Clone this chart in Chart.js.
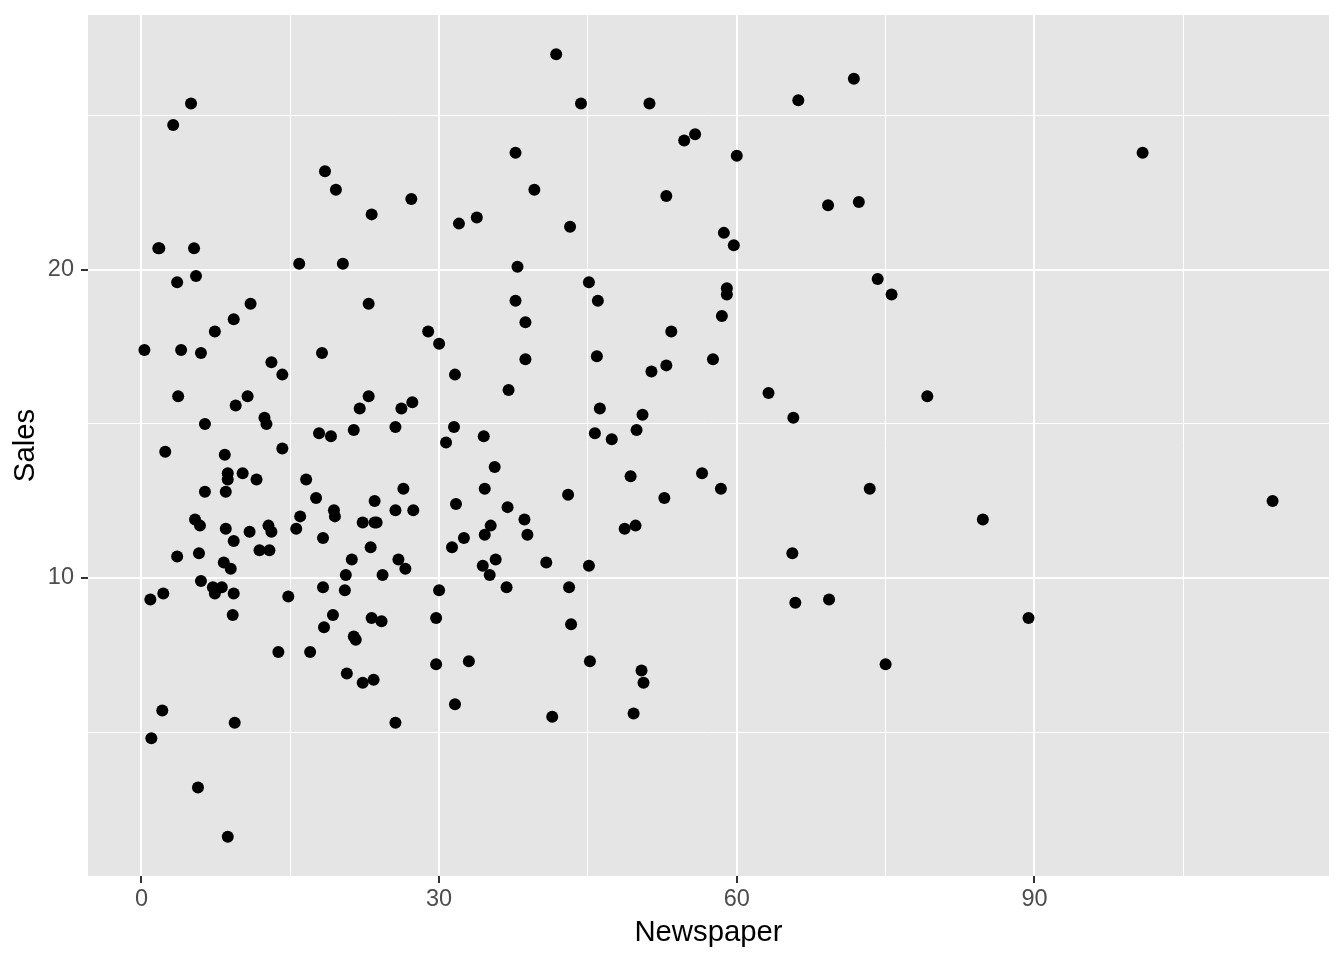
<!DOCTYPE html>
<html>
<head>
<meta charset="utf-8">
<script src="https://cdn.jsdelivr.net/npm/chart.js@4/dist/chart.umd.min.js"></script>
<style>
  html, body { margin: 0; padding: 0; background: #ffffff; }
  canvas { display: block; }
</style>
</head>
<body>
<canvas id="chart_newspaperSales" width="1344" height="960"></canvas>
<script>
// Advertising data: Newspaper budget vs Sales
var newspaper = [
  69.2, 45.1, 69.3, 58.5, 58.4, 75, 23.5, 11.6, 1, 21.2,
  24.2, 4, 65.9, 7.2, 46, 52.9, 114, 55.8, 18.3, 19.1,
  53.4, 23.5, 49.6, 26.2, 18.3, 19.5, 12.6, 22.9, 22.9, 40.8,
  43.2, 38.6, 30, 0.3, 7.4, 8.5, 5, 45.7, 35.1, 32,
  31.6, 38.7, 1.8, 26.4, 43.3, 31.5, 35.7, 18.5, 49.9, 36.8,
  34.6, 3.6, 39.6, 58.7, 15.9, 60, 41.4, 16.6, 37.7, 9.3,
  21.4, 54.7, 27.3, 8.4, 28.9, 0.9, 2.2, 10.2, 11, 27.2,
  38.7, 31.7, 19.3, 31.3, 13.1, 89.4, 20.7, 14.2, 9.4, 23.1,
  22.3, 36.9, 32.5, 35.6, 33.8, 65.7, 16, 63.2, 73.4, 51.4,
  9.3, 33, 59, 72.3, 10.9, 52.9, 5.9, 22, 51.2, 45.9,
  49.8, 100.9, 21.4, 17.9, 5.3, 59, 29.7, 23.2, 25.6, 5.5,
  56.5, 23.2, 2.4, 10.7, 34.5, 52.7, 25.6, 14.8, 79.2, 22.3,
  46.2, 50.4, 15.6, 12.4, 74.2, 25.9, 50.6, 9.2, 3.2, 43.1,
  8.7, 43, 2.1, 45.1, 65.6, 8.5, 9.3, 59.7, 20.5, 1.7,
  12.9, 75.6, 37.9, 34.4, 38.9, 9, 8.7, 44.3, 11.9, 20.6,
  37, 48.7, 14.2, 37.7, 9.5, 5.7, 50.5, 24.3, 45.2, 34.6,
  30.7, 49.3, 25.6, 7.4, 5.4, 84.8, 21.6, 19.4, 57.6, 6.4,
  18.4, 47.4, 17, 12.8, 13.1, 41.8, 20.3, 35.2, 23.7, 17.6,
  8.3, 27.4, 29.7, 71.8, 30, 19.6, 26.6, 18.2, 3.7, 23.4,
  5.8, 6, 31.6, 3.6, 6, 13.8, 8.1, 6.4, 66.2, 8.7
];
var sales = [
  22.1, 10.4, 9.3, 18.5, 12.9, 7.2, 11.8, 13.2, 4.8, 10.6,
  8.6, 17.4, 9.2, 9.7, 19, 22.4, 12.5, 24.4, 11.3, 14.6,
  18, 12.5, 5.6, 15.5, 9.7, 12, 15, 15.9, 18.9, 10.5,
  21.4, 11.9, 9.6, 17.4, 9.5, 12.8, 25.4, 14.7, 10.1, 21.5,
  16.6, 17.1, 20.7, 12.9, 8.5, 14.9, 10.6, 23.2, 14.8, 9.7,
  11.4, 10.7, 22.6, 21.2, 20.2, 23.7, 5.5, 13.2, 23.8, 18.4,
  8.1, 24.2, 15.7, 14, 18, 9.3, 9.5, 13.4, 18.9, 22.3,
  18.3, 12.4, 8.8, 11, 17, 8.7, 6.9, 14.2, 5.3, 11,
  11.8, 12.3, 11.3, 13.6, 21.7, 15.2, 12, 16, 12.9, 16.7,
  11.2, 7.3, 19.4, 22.2, 11.5, 16.9, 11.7, 15.5, 25.4, 17.2,
  11.7, 23.8, 14.8, 14.7, 20.7, 19.2, 7.2, 8.7, 5.3, 19.8,
  13.4, 21.8, 14.1, 15.9, 14.6, 12.6, 12.2, 9.4, 15.9, 6.6,
  15.5, 7, 11.6, 15.2, 19.7, 10.6, 6.6, 8.8, 24.7, 9.7,
  1.6, 12.7, 5.7, 19.6, 10.8, 11.6, 9.5, 20.8, 9.6, 20.7,
  10.9, 19.2, 20.1, 10.4, 11.4, 10.3, 13.2, 25.4, 10.9, 10.1,
  16.1, 11.6, 16.6, 19, 15.6, 3.2, 15.3, 10.1, 7.3, 12.9,
  14.4, 13.3, 14.9, 18, 11.9, 11.9, 8, 12.2, 17.1, 15,
  8.4, 14.5, 7.6, 11.7, 11.5, 27, 20.2, 11.7, 11.8, 12.6,
  10.5, 12.2, 8.7, 26.2, 17.6, 22.6, 10.3, 17.3, 15.9, 6.7,
  10.8, 9.9, 5.9, 19.6, 17.3, 7.6, 9.7, 12.8, 25.5, 13.4
];

// axis breaks
var xMajor = [0, 30, 60, 90];
var xMinor = [15, 45, 75, 105];
var yMajor = [10, 20];
var yMinor = [5, 15, 25];

// ggplot-style 5% expansion of the data range
function expandRange(vals) {
  var lo = Math.min.apply(null, vals), hi = Math.max.apply(null, vals);
  var pad = (hi - lo) * 0.05;
  return [lo - pad, hi + pad];
}
var xRange = expandRange(newspaper);
var yRange = expandRange(sales);

var points = newspaper.map(function (x, i) { return { x: x, y: sales[i] }; });

function gridScale(major, minor, range) {
  var all = major.concat(minor).sort(function (a, b) { return a - b; });
  return {
    type: 'linear',
    min: range[0],
    max: range[1],
    afterBuildTicks: function (scale) {
      scale.ticks = all.map(function (v) { return { value: v }; });
    },
    border: { display: false },
    grid: {
      drawOnChartArea: true,
      drawTicks: true,
      tickLength: 7,
      color: '#ffffff',
      lineWidth: function (ctx) {
        return ctx.tick && major.indexOf(ctx.tick.value) >= 0 ? 2 : 1;
      },
      tickColor: function (ctx) {
        return ctx.tick && major.indexOf(ctx.tick.value) >= 0 ? '#333333' : 'rgba(0,0,0,0)';
      },
      tickWidth: 2
    },
    ticks: {
      autoSkip: false,
      maxRotation: 0,
      padding: 2,
      color: '#4d4d4d',
      font: { family: 'Liberation Sans', size: 23.5 },
      callback: function (value) {
        return major.indexOf(value) >= 0 ? String(value) : '';
      }
    }
  };
}

var xScale = gridScale(xMajor, xMinor, xRange);
xScale.position = 'bottom';
xScale.title = {
  display: true,
  text: 'Newspaper',
  color: '#000000',
  font: { family: 'Liberation Sans', size: 29.3 },
  padding: { top: 0, bottom: 10 }
};
xScale.afterFit = function (scale) {
  scale.height = 84;
  scale.paddingLeft = 0;
  scale.paddingRight = 0;
};

var yScale = gridScale(yMajor, yMinor, yRange);
yScale.position = 'left';
yScale.ticks.padding = 7;
yScale.title = {
  display: true,
  text: 'Sales',
  color: '#000000',
  font: { family: 'Liberation Sans', size: 29.3 },
  padding: { top: 8, bottom: 0 }
};
yScale.afterFit = function (scale) {
  scale.width = 88;
  scale.paddingTop = 0;
  scale.paddingBottom = 0;
};

var chart_newspaperSales = new Chart(document.getElementById('chart_newspaperSales'), {
  type: 'scatter',
  data: {
    datasets: [{
      label: 'Sales',
      data: points,
      backgroundColor: '#000000',
      borderWidth: 0,
      pointRadius: 6,
      pointHoverRadius: 6
    }]
  },
  options: {
    animation: false,
    responsive: false,
    layout: { padding: { left: 0, top: 15, right: 15, bottom: 0 } },
    plugins: {
      legend: { display: false },
      tooltip: { enabled: false }
    },
    scales: { x: xScale, y: yScale }
  },
  plugins: [{
    id: 'panelBackground',
    beforeDraw: function (chart) {
      var ctx = chart.ctx, a = chart.chartArea;
      ctx.save();
      ctx.fillStyle = '#ffffff';
      ctx.fillRect(0, 0, chart.width, chart.height);
      ctx.fillStyle = '#e5e5e5';
      ctx.fillRect(a.left, a.top, a.right - a.left, a.bottom - a.top);
      ctx.restore();
    }
  }]
});
</script>
</body>
</html>
